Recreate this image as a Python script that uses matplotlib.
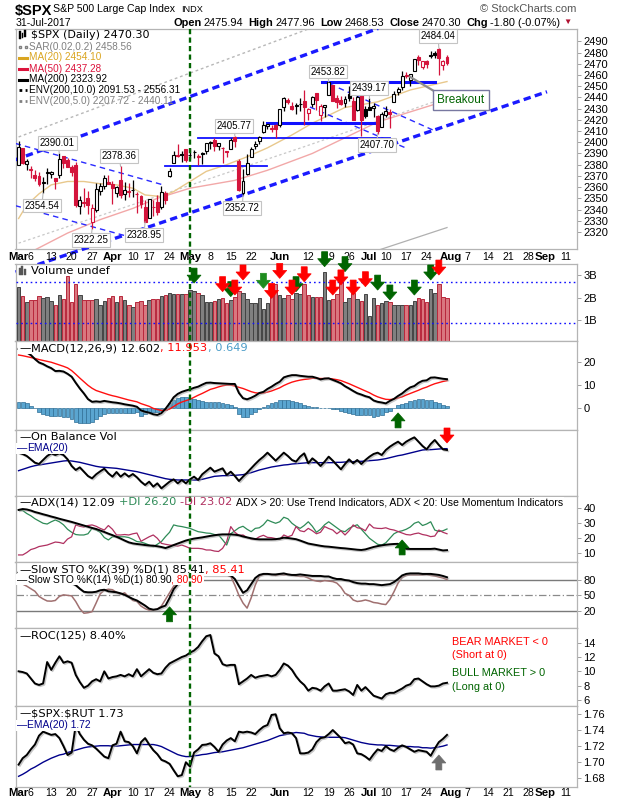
import numpy as np
import pandas as pd
import matplotlib
matplotlib.use("Agg")
import matplotlib.pyplot as plt
import matplotlib.patheffects as pe
import matplotlib.transforms as mtransforms
from matplotlib.patches import Polygon, Rectangle
from matplotlib.lines import Line2D

plt.rcParams['font.family'] = ['Liberation Sans', 'DejaVu Sans']

# ---------------- data ----------------
holidays = ['2017-04-14', '2017-05-29', '2017-07-04', '2017-09-04']
first_day, axis_last_day = '2017-03-01', '2017-09-20'

opens = [2380.13, 2394.75, 2380.92, 2375.23, 2370.74, 2369.81, 2363.49, 2372.52, 2371.56, 2368.55,
         2370.34, 2387.71, 2383.71, 2378.24, 2379.32, 2343.00, 2345.97, 2350.42, 2329.11, 2339.79,
         2356.54, 2361.31, 2364.82,
         2362.34, 2354.76, 2366.59, 2353.79, 2356.59, 2357.16, 2353.92, 2352.15, 2341.98, 2332.62,
         2342.53, 2346.79, 2342.69, 2354.74, 2370.33, 2381.51, 2388.98, 2389.70, 2393.68,
         2388.50, 2391.05, 2386.50, 2389.91, 2392.37, 2399.94, 2401.58, 2396.79, 2394.84, 2392.44,
         2393.98, 2404.55, 2382.95, 2354.69, 2371.37, 2387.21, 2397.04, 2401.41, 2409.54, 2414.50,
         2411.67, 2415.63,
         2415.65, 2431.28, 2437.83, 2431.92, 2432.03, 2434.27, 2436.39, 2425.88, 2434.15, 2443.75,
         2424.14, 2431.24, 2442.55, 2450.66, 2439.31, 2437.40, 2434.65, 2443.32, 2436.34, 2428.70,
         2442.38, 2429.20,
         2431.39, 2430.78, 2423.44, 2413.52, 2424.51, 2427.35, 2435.75, 2444.99, 2449.16, 2459.50,
         2455.88, 2463.85, 2475.56, 2467.40, 2472.04, 2477.88, 2479.97, 2482.76, 2469.12, 2475.94]
highs = [2400.98, 2394.75, 2385.03, 2378.80, 2375.12, 2373.09, 2369.08, 2376.86, 2374.42, 2368.55,
         2390.01, 2388.10, 2385.71, 2379.55, 2381.93, 2351.81, 2358.92, 2356.22, 2344.90, 2363.78,
         2363.36, 2370.42, 2370.35,
         2365.87, 2360.53, 2378.36, 2364.16, 2363.76, 2366.37, 2355.22, 2352.72, 2348.26, 2349.14,
         2348.35, 2352.63, 2361.37, 2356.18, 2376.98, 2392.48, 2398.16, 2392.10, 2393.68,
         2394.49, 2392.93, 2389.82, 2391.43, 2399.29, 2401.36, 2403.87, 2399.74, 2395.72, 2392.44,
         2404.05, 2405.77, 2384.87, 2375.74, 2389.06, 2395.46, 2400.85, 2405.58, 2418.71, 2416.68,
         2415.26, 2415.99,
         2430.06, 2440.23, 2439.55, 2436.21, 2435.28, 2439.27, 2446.20, 2430.38, 2441.49, 2443.75,
         2433.95, 2433.15, 2453.82, 2450.66, 2442.23, 2441.62, 2441.40, 2450.42, 2440.15, 2442.97,
         2442.73, 2432.71,
         2439.17, 2434.90, 2424.28, 2426.92, 2432.00, 2429.30, 2445.76, 2449.32, 2463.54, 2462.82,
         2460.92, 2473.83, 2477.62, 2472.54, 2473.10, 2481.24, 2481.69, 2484.04, 2473.53, 2477.96]
lows = [2380.13, 2380.17, 2375.12, 2367.98, 2365.51, 2361.01, 2354.54, 2363.04, 2368.52, 2358.18,
        2367.80, 2377.18, 2377.64, 2369.66, 2341.90, 2336.45, 2342.13, 2335.74, 2322.25, 2337.63,
        2352.94, 2358.58, 2362.60,
        2344.73, 2350.72, 2350.52, 2348.90, 2350.74, 2351.50, 2337.25, 2341.18, 2328.95, 2332.51,
        2334.54, 2335.05, 2340.91, 2344.51, 2369.19, 2381.15, 2386.78, 2382.68, 2382.36,
        2384.83, 2385.82, 2379.75, 2380.35, 2389.38, 2393.92, 2392.44, 2392.79, 2381.74, 2387.19,
        2393.94, 2396.05, 2356.21, 2352.72, 2370.43, 2386.92, 2393.88, 2397.99, 2408.01, 2412.20,
        2409.43, 2403.59,
        2413.54, 2427.71, 2434.32, 2429.12, 2424.75, 2427.94, 2415.70, 2419.97, 2431.28, 2428.34,
        2418.53, 2422.88, 2441.79, 2436.60, 2430.74, 2433.27, 2431.11, 2437.03, 2419.38, 2428.02,
        2405.70, 2421.65,
        2428.69, 2422.05, 2407.70, 2413.52, 2422.27, 2412.79, 2435.75, 2441.69, 2446.69, 2457.16,
        2450.34, 2463.85, 2468.43, 2465.06, 2466.32, 2474.91, 2474.94, 2459.93, 2464.66, 2468.53]
closes = [2395.96, 2381.92, 2383.12, 2375.31, 2368.39, 2362.98, 2364.87, 2372.60, 2373.47, 2365.45,
          2385.26, 2381.38, 2378.25, 2373.47, 2344.02, 2348.45, 2345.96, 2343.98, 2341.59, 2358.57,
          2361.13, 2368.06, 2362.72,
          2358.84, 2360.16, 2352.95, 2357.49, 2355.54, 2357.16, 2353.78, 2344.93, 2328.95, 2349.01,
          2342.19, 2338.17, 2355.84, 2348.69, 2374.15, 2388.61, 2387.45, 2388.77, 2384.20,
          2388.33, 2391.17, 2388.13, 2389.52, 2399.29, 2399.38, 2396.92, 2399.63, 2394.44, 2390.90,
          2402.32, 2400.67, 2357.03, 2365.72, 2381.73, 2394.02, 2398.42, 2404.39, 2415.07, 2415.82,
          2412.91, 2411.80,
          2430.06, 2439.07, 2436.10, 2429.33, 2433.14, 2433.79, 2431.77, 2429.39, 2440.35, 2437.92,
          2432.46, 2433.15, 2453.46, 2437.03, 2435.61, 2434.50, 2438.30, 2439.07, 2419.38, 2440.69,
          2419.70, 2423.41,
          2429.01, 2432.54, 2409.75, 2425.18, 2427.43, 2425.53, 2443.25, 2447.83, 2459.27, 2459.14,
          2460.61, 2473.83, 2473.45, 2472.54, 2469.91, 2477.13, 2477.83, 2475.42, 2472.10, 2470.30]
prev_close_before_start = 2363.64

volume_b = [2.47, 2.07, 1.80, 1.87, 1.87, 2.07, 1.98, 2.02, 1.83, 1.65,
            2.09, 1.92, 2.96, 1.80, 2.61, 2.09, 1.87, 1.87, 1.87, 1.92,
            1.68, 1.83, 1.98, 2.07, 1.80, 2.07, 1.87, 1.68, 1.60, 1.80,
            1.83, 1.65, 1.87, 1.92, 1.94, 2.05, 2.12, 2.21, 2.16, 2.16,
            2.16, 2.16, 2.32, 2.27, 2.19, 2.09, 1.80, 1.80, 1.83, 1.92,
            1.98, 1.76, 1.87, 2.02, 2.27, 2.21, 1.94, 1.76, 1.76, 1.98,
            1.49, 1.76, 2.12, 2.61, 2.12, 1.98, 2.12, 1.94, 2.21, 2.16,
            2.61, 2.09, 2.02, 2.02, 2.02, 3.13, 1.87, 1.92, 2.16, 2.67,
            1.80, 1.98, 2.19, 1.94, 1.83, 2.16, 1.16, 1.98, 1.65, 1.76,
            1.83, 1.80, 1.68, 1.65, 1.65, 1.68, 1.68, 1.83, 1.98, 1.92,
            1.80, 2.40, 2.21, 2.61, 2.02, 2.00]
volume_levels = [2.68, 0.85]

ma20_idx = [0, 2, 5, 8, 12, 16, 20, 24, 28, 31, 35, 38, 42, 46, 51, 56, 61, 67, 72, 80, 88, 96, 105]
ma20_val = [2332, 2344, 2354, 2362, 2365, 2365, 2363, 2362, 2359, 2353, 2351.5, 2356, 2365, 2374,
            2380, 2387, 2395, 2406.5, 2417, 2431, 2436, 2446.6, 2454.1]
ma50_idx = [0, 4, 12, 20, 28, 34, 42, 53, 61, 72, 88, 105]
ma50_val = [2296, 2304, 2319, 2331, 2341, 2350, 2359, 2366, 2375, 2390, 2418, 2437.28]
ma200_idx = [0, 35, 70, 105]
ma200_val = [2200, 2241, 2282, 2323.92]
env5_up_idx = [0, 35, 70, 105]
env5_up_val = [2310, 2353, 2396, 2440.11]

macd = [26.0, 25.5, 24.5, 23.3, 21.5, 20.0, 19.3, 18.3, 17.5, 16.2,
        16.3, 16.0, 15.0, 13.7, 11.0, 8.5, 6.3, 3.8, 2.6, 2.8,
        2.6, 3.0, 2.7, 2.4, 2.2, 1.9, 1.5, 1.2, 0.9, 0.4,
        -1.2, -1.8, -2.2, -2.9, -3.2, -2.4, -0.5, 1.9, 4.6, 6.1,
        7.0, 7.6, 8.1, 8.8, 9.3, 10.2, 11.0, 11.1, 10.9, 10.8,
        10.7, 10.6, 10.5, 10.5, 6.5, 4.2, 3.7, 4.4, 5.3, 6.5,
        7.0, 8.3, 9.3, 10.5, 11.5, 13.4, 14.0, 14.4, 14.4, 14.1,
        13.9, 13.7, 13.7, 13.2, 12.5, 12.9, 13.0, 12.3, 11.6, 10.8,
        9.5, 8.5, 7.4, 6.4, 5.8, 5.1, 4.6, 3.2, 2.6, 2.3,
        1.9, 3.0, 3.9, 5.2, 6.3, 7.8, 9.0, 9.6, 11.0, 11.9,
        12.1, 13.3, 13.4, 13.1, 12.8, 12.602]
macd_signal = [23.3, 23.0, 22.6, 22.2, 21.8, 21.3, 20.9, 20.5, 20.1, 19.5,
               18.9, 18.3, 17.6, 16.4, 14.8, 13.1, 11.5, 9.9, 8.6, 7.6,
               7.0, 6.4, 5.8, 5.3, 4.9, 4.4, 3.9, 3.4, 3.0, 2.6,
               1.8, 1.2, 0.6, -0.3, -0.8, -1.2, -1.2, -0.6, 0.5, 1.7,
               2.5, 3.1, 3.7, 4.6, 5.5, 6.3, 7.2, 8.1, 8.6, 9.2,
               9.7, 10.0, 10.0, 9.6, 9.0, 8.5, 7.8, 7.1, 6.6, 6.4,
               6.5, 6.9, 7.4, 8.1, 8.8, 9.8, 10.6, 11.3, 11.8, 12.2,
               12.5, 12.7, 13.0, 13.0, 12.9, 12.9, 12.9, 12.7, 12.4, 12.0,
               11.3, 10.6, 9.8, 9.0, 8.2, 7.4, 6.6, 5.6, 4.8, 4.2,
               3.7, 3.6, 3.8, 4.3, 4.8, 5.6, 6.3, 7.0, 7.7, 8.5,
               9.1, 9.9, 10.6, 11.1, 11.6, 11.953]
macd_hist = [2.6, 2.6, 2.0, 0.8, -0.3, -1.8, -2.8, -3.3, -3.5, -3.6,
             -3.7, -3.9, -4.3, -5.2, -6.2, -6.6, -6.6, -6.6, -6.2, -4.9,
             -3.5, -2.9, -2.5, -2.5, -2.4, -2.4, -2.3, -2.2, -2.2, -1.8,
             -3.5, -2.8, -2.0, -1.8, -1.8, -1.6, -1.0, 1.9, 3.2, 4.4,
             4.6, 4.6, 4.4, 3.9, 3.4, 3.0, 2.7, 2.6, 2.5, 2.3,
             2.1, 1.6, 1.0, 0.5, -2.8, -4.3, -3.9, -3.0, -2.0, -0.8,
             0.3, 1.4, 2.0, 2.6, 3.2, 3.4, 3.3, 2.9, 2.6, 2.0,
             1.3, 0.9, 0.4, 0.2, -0.3, 0.0, 0.0, -0.4, -0.8, -1.3,
             -1.8, -2.2, -2.8, -3.2, -3.2, -3.2, -3.4, -4.0, -3.6, -3.2,
             -2.0, -1.5, 0.0, 1.0, 1.6, 2.2, 2.8, 3.4, 3.7, 3.7,
             3.6, 3.2, 2.7, 2.0, 1.2, 0.649]

# On-balance volume, in relative units (larger = lower on the panel)
obv = [338, 342, 348, 358, 368, 372, 360, 348, 340, 345,
       340, 345, 358, 378, 390, 382, 395, 408, 415, 403,
       394, 386, 400, 410, 396, 410, 400, 410, 402, 412,
       425, 435, 425, 440, 430, 445, 435, 425, 418, 430,
       420, 430, 418, 410, 420, 403, 393, 383, 395, 390,
       385, 405, 395, 408, 423, 410, 398, 385, 372, 360,
       350, 338, 350, 362, 350, 338, 348, 360, 365, 350,
       340, 370, 355, 365, 378, 365, 350, 362, 375, 388,
       372, 358, 370, 360, 372, 360, 350, 342, 338, 345,
       330, 320, 312, 305, 315, 305, 298, 292, 305, 318,
       328, 312, 300, 315, 328, 330]
obv_ema = [392, 388, 384, 380, 377, 375, 373, 371, 369, 367,
           365, 363, 362, 363, 365, 367, 370, 373, 376, 379,
           381, 382, 383, 384, 385, 387, 389, 391, 393, 395,
           398, 401, 404, 407, 410, 413, 416, 418, 419, 420,
           420, 420, 420, 420, 420, 418, 415, 412, 409, 408,
           407, 407, 406, 406, 405, 404, 401, 398, 394, 390,
           387, 384, 381, 379, 377, 375, 374, 372, 371, 370,
           369, 368, 368, 368, 368, 368, 368, 368, 367, 367,
           366, 365, 365, 364, 364, 363, 362, 361, 360, 358,
           356, 353, 350, 347, 345, 342, 339, 336, 333, 330,
           329, 329, 328, 327, 326, 326]

adx = [38.9, 39.5, 39.2, 38.5, 37.5, 36.8, 36.0, 35.3, 34.5, 33.8,
       33.0, 32.3, 31.6, 30.9, 30.1, 29.3, 28.5, 27.7, 26.9, 26.2,
       25.2, 24.2, 23.1, 22.1, 21.0, 19.8, 18.5, 17.3, 16.6, 16.2,
       15.9, 15.5, 15.2, 15.1, 14.7, 14.2, 13.5, 14.4, 15.5, 16.5,
       17.5, 18.5, 19.2, 19.8, 20.2, 20.6, 21.1, 21.6, 22.0, 22.4,
       22.6, 22.6, 22.6, 22.4, 22.0, 21.2, 20.6, 20.0, 19.5, 19.3,
       19.3, 19.3, 19.3, 19.4, 19.8, 20.4, 20.2, 19.8, 19.4, 18.5,
       17.5, 16.5, 16.0, 15.5, 15.0, 14.6, 14.4, 14.1, 13.8, 13.5,
       13.3, 13.0, 12.7, 12.4, 12.2, 12.6, 13.4, 14.2, 14.8, 15.3,
       15.7, 16.0, 16.2, 16.3, 14.5, 13.0, 12.9, 12.9, 12.9, 12.9,
       12.9, 12.9, 13.1, 12.5, 11.9, 12.09]
plus_di = [38.9, 38.5, 36.5, 35.0, 33.0, 31.5, 30.0, 29.5, 31.0, 32.2,
           31.0, 29.0, 26.0, 24.0, 22.5, 22.2, 22.2, 23.0, 26.6, 25.5,
           24.0, 20.5, 18.9, 21.0, 21.1, 21.0, 21.0, 20.5, 19.3, 17.8,
           17.5, 16.6, 15.5, 14.4, 16.0, 17.8, 21.1, 24.0, 28.9, 28.2,
           27.8, 27.2, 26.6, 25.5, 24.4, 24.0, 23.5, 23.3, 22.5, 22.2,
           19.0, 15.5, 23.0, 25.0, 27.0, 28.0, 26.0, 24.4, 26.6, 27.0,
           29.0, 32.2, 31.0, 30.0, 31.0, 34.0, 33.0, 30.0, 28.0, 26.6,
           28.5, 31.0, 28.0, 24.0, 26.0, 29.0, 31.0, 29.0, 27.0, 25.0,
           24.4, 26.6, 28.0, 29.0, 26.0, 23.0, 20.0, 18.0, 16.0, 15.5,
           17.0, 20.0, 23.0, 24.4, 25.0, 26.0, 27.5, 30.0, 31.0, 28.5,
           29.5, 31.0, 25.5, 24.5, 25.0, 26.2]
minus_di = [8.9, 8.9, 10.5, 12.5, 13.3, 14.5, 15.0, 15.5, 16.5, 17.5,
            17.2, 16.5, 19.5, 21.0, 28.9, 28.0, 27.5, 28.5, 28.9, 28.0,
            26.6, 25.5, 28.5, 26.0, 22.2, 22.2, 22.5, 22.2, 23.0, 23.5,
            18.0, 19.5, 21.0, 22.2, 20.0, 16.6, 16.0, 15.5, 15.2, 14.8,
            15.5, 14.5, 13.3, 13.3, 13.3, 13.0, 12.2, 12.2, 11.5, 11.2,
            13.3, 17.8, 27.8, 24.0, 22.0, 22.2, 20.5, 19.5, 19.3, 21.0,
            22.0, 20.6, 20.4, 19.8, 19.3, 22.2, 21.0, 22.0, 27.8, 25.0,
            24.4, 26.6, 25.0, 23.0, 24.0, 27.8, 26.5, 25.5, 23.0, 25.0,
            22.2, 25.0, 28.9, 27.0, 26.6, 25.0, 29.5, 27.0, 26.6, 26.5,
            27.0, 26.0, 25.5, 24.5, 23.5, 22.5, 22.2, 23.0, 23.5, 22.5,
            22.0, 21.1, 21.5, 25.5, 24.0, 23.02]

sto39 = [95, 90, 88, 85, 83, 80, 78, 76, 77, 78,
         80, 79, 76, 74, 70, 63, 57, 56, 56, 57,
         60, 61, 58, 57, 56, 54, 51, 47, 43, 40,
         35, 30, 24, 22, 23, 27, 30, 45, 62, 72,
         78, 80, 82, 84, 88, 90, 90, 90, 90, 90,
         90, 90, 89, 82, 68, 55, 60, 72, 84, 90,
         92, 92, 91, 91, 92, 93, 91, 90, 90, 91,
         90, 89, 88, 88, 88, 87, 87, 84, 82, 82,
         80, 79, 76, 74, 73, 73, 72, 72, 71, 70,
         71, 72, 76, 82, 89, 92, 93, 93, 93, 92,
         92, 92, 91, 90, 88, 85.41]
sto14 = [75, 72, 68, 63, 58, 48, 43, 39, 38.6, 40,
         48, 51, 50, 49, 38, 24, 15, 16, 18, 35,
         53, 60, 62, 61, 56, 52, 55, 47, 40, 38,
         29, 24, 21, 21, 23, 29, 42, 55, 68, 78,
         84, 86, 87, 89, 92, 94, 93, 93, 92, 91,
         92, 90, 87, 70, 50, 35, 25, 45, 70, 88,
         91, 92, 91, 89, 91, 90, 91, 90, 88, 87,
         87, 84, 80, 78, 77, 79, 78, 77, 74, 66,
         54, 50, 41, 38, 39, 41, 39, 36, 35, 33,
         32, 42, 57, 74, 85, 89, 90, 90, 90, 90,
         91, 89, 88, 86, 84, 80.90]

roc125 = [10.0, 9.9, 9.7, 9.0, 8.3, 8.1, 8.3, 11.3, 10.2, 11.2,
          12.1, 11.2, 11.4, 11.2, 9.5, 8.5, 7.7, 8.0, 8.6, 8.9,
          8.6, 10.0, 9.0, 9.2, 9.3, 9.5, 9.3, 9.6, 9.3, 10.3,
          9.3, 9.8, 10.3, 9.8, 9.6, 9.7, 10.5, 11.1, 11.4, 11.7,
          12.0, 12.2, 12.6, 12.9, 13.4, 14.2, 14.9, 15.07, 12.5, 12.1,
          11.0, 10.8, 10.9, 10.9, 8.2, 8.6, 9.0, 9.5, 9.1, 9.3,
          9.4, 9.5, 9.3, 9.5, 10.2, 11.1, 10.8, 10.2, 9.3, 8.6,
          8.1, 7.3, 7.7, 7.6, 7.3, 7.9, 8.3, 7.3, 7.3, 7.4,
          7.5, 7.2, 6.7, 8.1, 7.3, 7.8, 7.2, 6.6, 6.4, 6.2,
          6.8, 7.0, 7.0, 7.3, 7.6, 8.0, 8.2, 8.9, 9.0, 8.6,
          8.2, 7.9, 7.9, 8.0, 8.3, 8.40]

spx_rut = [1.697, 1.705, 1.709, 1.716, 1.722, 1.733, 1.738, 1.736, 1.734, 1.735,
           1.730, 1.720, 1.709, 1.712, 1.746, 1.735, 1.728, 1.723, 1.721, 1.717,
           1.712, 1.707, 1.705, 1.721, 1.723, 1.738, 1.726, 1.725, 1.720, 1.711,
           1.725, 1.730, 1.722, 1.715, 1.710, 1.703, 1.701, 1.698, 1.690, 1.6825,
           1.684, 1.700, 1.6946, 1.712, 1.716, 1.7215, 1.722, 1.7236, 1.719, 1.713,
           1.722, 1.727, 1.730, 1.726, 1.738, 1.737, 1.738, 1.737, 1.735, 1.740,
           1.7442, 1.7463, 1.7588, 1.7596, 1.7422, 1.736, 1.737, 1.736, 1.730, 1.711,
           1.711, 1.712, 1.716, 1.725, 1.730, 1.731, 1.735, 1.740, 1.735, 1.730,
           1.7236, 1.725, 1.722, 1.711, 1.710, 1.707, 1.703, 1.710, 1.716, 1.714,
           1.720, 1.716, 1.714, 1.718, 1.721, 1.719, 1.716, 1.713, 1.715, 1.714,
           1.713, 1.708, 1.717, 1.725, 1.729, 1.734]
spx_rut_ema = [1.6825, 1.685, 1.688, 1.6915, 1.694, 1.697, 1.700, 1.7025, 1.705, 1.707,
               1.709, 1.710, 1.712, 1.7135, 1.715, 1.7165, 1.718, 1.719, 1.7195, 1.720,
               1.7205, 1.7205, 1.7205, 1.720, 1.720, 1.7205, 1.721, 1.7215, 1.722, 1.722,
               1.722, 1.722, 1.722, 1.722, 1.721, 1.7195, 1.717, 1.7145, 1.712, 1.7095,
               1.708, 1.707, 1.707, 1.708, 1.7085, 1.7095, 1.710, 1.711, 1.712, 1.7125,
               1.713, 1.714, 1.715, 1.716, 1.717, 1.718, 1.7195, 1.721, 1.7225, 1.724,
               1.7255, 1.727, 1.729, 1.731, 1.733, 1.734, 1.735, 1.736, 1.737, 1.7365,
               1.736, 1.734, 1.733, 1.732, 1.7315, 1.731, 1.731, 1.731, 1.731, 1.731,
               1.7305, 1.729, 1.7275, 1.726, 1.7245, 1.7235, 1.7225, 1.722, 1.7215, 1.7215,
               1.721, 1.721, 1.7205, 1.720, 1.720, 1.7195, 1.7195, 1.719, 1.719, 1.718,
               1.718, 1.7175, 1.718, 1.719, 1.720, 1.7215]

tick_dates = ['2017-03-01', '2017-03-06', '2017-03-13', '2017-03-20', '2017-03-27', '2017-04-03',
              '2017-04-10', '2017-04-17', '2017-04-24', '2017-05-01', '2017-05-08', '2017-05-15',
              '2017-05-22', '2017-06-01', '2017-06-12', '2017-06-19', '2017-06-26', '2017-07-03',
              '2017-07-10', '2017-07-17', '2017-07-24', '2017-08-01', '2017-08-07', '2017-08-14',
              '2017-08-21', '2017-08-28', '2017-09-01', '2017-09-11']
tick_labels = ['Mar', '6', '13', '20', '27', 'Apr', '10', '17', '24', 'May', '8', '15', '22', 'Jun',
               '12', '19', '26', 'Jul', '10', '17', '24', 'Aug', '7', '14', '21', '28', 'Sep', '11']
marker_date = '2017-05-01'

# price annotations: text, date index of bar, price of bar extreme
price_notes = [('2390.01', 10, 2390.01), ('2354.54', 6, 2354.54), ('2378.36', 25, 2378.36),
               ('2322.25', 18, 2322.25), ('2328.95', 31, 2328.95), ('2405.77', 53, 2405.77),
               ('2352.72', 55, 2352.72), ('2453.82', 76, 2453.82), ('2439.17', 86, 2439.17),
               ('2407.70', 88, 2407.70), ('2484.04', 103, 2484.04)]

for arr in [opens, highs, lows, closes, volume_b, macd, macd_signal, macd_hist, obv, obv_ema, adx,
            plus_di, minus_di, sto39, sto14, roc125, spx_rut, spx_rut_ema]:
    assert len(arr) == 106, len(arr)

# ---------------- calendar ----------------
days = [d for d in pd.bdate_range(first_day, axis_last_day) if d.strftime('%Y-%m-%d') not in holidays]
day_index = {d.strftime('%Y-%m-%d'): i for i, d in enumerate(days)}
n = len(closes)
x = np.arange(n)

# ---------------- figure layout ----------------
W, H = 620.0, 800.0
fig = plt.figure(figsize=(6.2, 8.0), dpi=100)
fig.patch.set_facecolor('white')
renderer = fig.canvas.get_renderer()
LEFT, RIGHT = 15.5, 577.0
XLIM = (-0.76, 136.86)
RED = '#d4143c'
GRAYC = '#b4b4b4'
LEG = 8.2


def make_ax(top, bot, ylim, yticks=None, yticklabels=None):
    ax = fig.add_axes([LEFT / W, 1 - bot / H, (RIGHT - LEFT) / W, (bot - top) / H])
    ax.set_xlim(*XLIM)
    ax.set_ylim(*ylim)
    for s in ax.spines.values():
        s.set_color(GRAYC)
        s.set_linewidth(0.9)
    ax.set_xticks([])
    ax.yaxis.tick_right()
    ax.tick_params(axis='y', which='both', direction='out', length=3, width=0.6, color='#909090',
                   labelsize=8, pad=1.5, labelcolor='black')
    if yticks is not None:
        ax.set_yticks(yticks)
        if yticklabels is not None:
            ax.set_yticklabels(yticklabels)
    else:
        ax.set_yticks([])
    return ax


def runs(xp, yp, items, size, family='DejaVu Sans', weight='normal', bg=True):
    """items: (text, color, gap_before_px); a white band is put behind the whole line."""
    x0 = xp
    for s, color, gap in items:
        xp += gap
        t = fig.text(xp / W, 1 - yp / H, s, color=color, fontsize=size, family=family,
                     fontweight=weight, ha='left', va='center', zorder=30)
        xp += t.get_window_extent(renderer=renderer).width
    if bg:
        fig.add_artist(Rectangle(((x0 - 1) / W, 1 - (yp + 5.5) / H), (xp - x0 + 2) / W, 11 / H,
                                 facecolor='white', edgecolor='none', zorder=28))
    return xp


def arrow(ax, xi, yv, up, color):
    tx, ty = ax.transData.transform((xi, yv))
    d = -1 if up else 1          # direction of the body relative to the tip (display y is upward)
    pts = [(0, 0), (7, 8), (3, 8), (3, 15), (-3, 15), (-3, 8), (-7, 8)]
    pts = [(tx + px, ty + d * py) for px, py in pts]
    poly = Polygon(pts, closed=True, facecolor=color, edgecolor=color, lw=0.5,
                   transform=mtransforms.IdentityTransform(), zorder=40)
    fig.add_artist(poly)


shadow = [pe.SimpleLineShadow(offset=(0.9, -0.9), shadow_color='#9a9a9a', alpha=0.55), pe.Normal()]

# ---------------- price panel ----------------
axp = make_ax(28.5, 249, (2304.8, 2501.4), list(range(2320, 2500, 10)))

axp.plot(ma200_idx, ma200_val, color='#b0b0b0', lw=0.9, zorder=2)
axp.plot(env5_up_idx, env5_up_val, color='#c8c8c8', lw=0.9, ls=(0, (2, 2)), zorder=2)
axp.plot(ma50_idx, ma50_val, color='#f2a8a8', lw=1.0, zorder=2)
axp.plot(ma20_idx, ma20_val, color='#e8c88c', lw=1.0, zorder=2)

axp.plot([0, 72], [2404.7, 2502.3], color='#b8b8b8', lw=1.0, ls=(0, (2, 2)), zorder=3)
axp.plot([-0.9, 88.1], [2384.2, 2501.4], color='#1a1aff', lw=2.4, ls=(0, (2.2, 1.3)), zorder=3)
axp.plot([-0.76, 129.5], [2284.2, 2445.0], color='#1a1aff', lw=2.4, ls=(0, (2.2, 1.3)), zorder=3,
         clip_on=False)
axp.plot([-0.76, 35.5], [2398.9, 2361.9], color='#2a2aff', lw=1.0, ls=(0, (4, 3)), zorder=3)
axp.plot([-0.76, 31.5], [2343.4, 2311.3], color='#2a2aff', lw=1.0, ls=(0, (4, 3)), zorder=3)
axp.plot([76.3, 102.1], [2451.9, 2410.0], color='#2a2aff', lw=1.0, ls=(0, (4, 3)), zorder=3)
axp.plot([71.4, 94.9], [2431.4, 2394.9], color='#2a2aff', lw=1.0, ls=(0, (4, 3)), zorder=3)
axp.plot([35.9, 60.8], [2379, 2379], color='#1010ff', lw=1.3, zorder=3)
axp.plot([44, 91], [2403.5, 2403.5], color='#1010ff', lw=1.3, zorder=3)
axp.plot([60.9, 89], [2417.4, 2417.4], color='#1010ff', lw=2.2, zorder=3)
axp.plot([74.3, 102], [2454, 2454], color='#1010ff', lw=2.2, zorder=3)

prev = [prev_close_before_start] + closes[:-1]
for i in range(n):
    o, h, l, c = opens[i], highs[i], lows[i], closes[i]
    col = RED if c < prev[i] else 'black'
    axp.vlines(i, l, h, color=col, lw=0.9, zorder=5)
    lo, hi = min(o, c), max(o, c)
    face = 'white' if c >= o else col
    axp.add_patch(Rectangle((i - 0.36, lo), 0.72, max(hi - lo, 0.5), facecolor=face,
                            edgecolor=col, lw=0.8, zorder=6))

label_offsets = {'2390.01': (-0.5, 9.3), '2354.54': (-0.3, -11.0), '2378.36': (-0.4, 9.3),
                 '2322.25': (-0.3, -9.4), '2328.95': (-0.3, -11.7), '2405.77': (-0.2, 8.7),
                 '2352.72': (-0.2, -11.3), '2453.82': (-0.2, 9.1), '2439.17': (-0.1, 9.1),
                 '2407.70': (-0.2, -10.2), '2484.04': (-0.2, 10.7)}
for txt, bi, bp in price_notes:
    dx, dy = label_offsets[txt]
    axp.plot([bi, bi + dx], [bp, bp + dy], color='#b8b8b8', lw=0.8, zorder=7)
    axp.text(bi + dx, bp + dy, txt, fontsize=7, ha='center', va='center', color='black', zorder=8,
             bbox=dict(boxstyle='square,pad=0.18', fc='white', ec='#c4c4c4', lw=0.8))

axp.plot([102.1, 95.9], [2445.0, 2458.4], color='#8c8c8c', lw=1.6, zorder=7)
axp.text(108.4, 2437.8, 'Breakout', fontsize=8.5, color='#006400', ha='center', va='center', zorder=8,
         bbox=dict(boxstyle='square,pad=0.35', fc='white', ec='#7878a0', lw=1.0))

ys = [35, 46.5, 57.5, 68.5, 79.5, 90.3, 101]
runs(31, ys[0], [('\\$SPX (Daily) 2470.30', 'black', 0)], 8.0, bg=False)
leg = [('SAR(0.02,0.2) 2458.56', '#808080', 'sq'), ('MA(20) 2454.10', '#daa520', '-'),
       ('MA(50) 2437.28', '#dc143c', '-'), ('MA(200) 2323.92', 'black', '-'),
       ('ENV(200,10.0) 2091.53 - 2556.31', 'black', ':'), ('ENV(200,5.0) 2207.72 - 2440.11', '#808080', ':')]
for (txt, col, st), yy in zip(leg, ys[1:]):
    runs(29.5, yy, [(txt, col, 0)], 7.2, family='Liberation Sans', bg=False)
    if st == '-':
        fig.add_artist(Line2D([19 / W, 27 / W], [1 - yy / H] * 2, color=col, lw=2.2))
    elif st == ':':
        fig.add_artist(Line2D([19 / W, 27 / W], [1 - yy / H] * 2, color=col, lw=2.0, ls=(0, (1, 1.2))))
    else:
        fig.add_artist(Line2D([20 / W, 26 / W], [1 - yy / H] * 2, color=col, lw=0, marker='s', ms=2,
                              markerfacecolor='white', markeredgecolor=col))
for k, (hh, lo) in enumerate([(31, 39), (33, 38), (30, 37)]):
    fig.add_artist(Rectangle(((19 + 2.6 * k) / W, 1 - lo / H), 1.6 / W, (lo - hh) / H,
                             facecolor='black', edgecolor='black', lw=0.3))

# ---------------- volume ----------------
axv = make_ax(264, 341, (0.067, 3.49), [1, 2, 3], ['1B', '2B', '3B'])
vcol = ['#d9777f' if closes[i] < prev[i] else '#808080' for i in range(n)]
vedge = ['#b8283c' if closes[i] < prev[i] else '#444444' for i in range(n)]
axv.bar(x, volume_b, width=0.86, color=vcol, edgecolor=vedge, lw=0.7, zorder=3)
for lv in volume_levels:
    axv.axhline(lv, color='#1010ff', lw=1.0, ls=(0, (1.2, 2.2)), zorder=4)
runs(31, 271.5, [('Volume undef', 'black', 0)], LEG, bg=False)
for k, hh in enumerate([268, 266, 269]):
    fig.add_artist(Rectangle(((19 + 2.4 * k) / W, 1 - 275 / H), 1.7 / W, (275 - hh) / H,
                             facecolor='#555555', edgecolor='#555555', lw=0.3))

vol_green_idx = [43, 52, 60, 68, 75, 80, 88, 91, 97, 101]
vol_green_tip = [2.64, 2.04, 2.41, 2.26, 3.37, 3.15, 2.33, 1.89, 2.11, 2.78]
vol_red_idx = [50, 53, 55, 62, 64, 67, 70, 77, 79, 82, 85, 103]
vol_red_tip = [2.26, 2.11, 2.78, 1.96, 2.85, 2.11, 2.70, 2.11, 2.56, 2.11, 2.48, 3.0]

# ---------------- MACD ----------------
axm = make_ax(341, 430, (-9.87, 29.5), [0, 10, 20])
axm.bar(x, macd_hist, width=0.9, color='#5aa5d0', edgecolor='#2f6f96', lw=0.5, zorder=2)
axm.plot(x, macd_signal, color='#ff1010', lw=1.0, zorder=3)
axm.plot(x, macd, color='black', lw=1.4, zorder=4, path_effects=shadow)
runs(19, 348.3, [('\u2014', 'black', 0), ('MACD(12,26,9) 12.602', 'black', 1.0),
                 (', 11.953', '#ff0000', 0), (', 0.649', '#4a9cc8', 0)], LEG)

# ---------------- OBV ----------------
axo = make_ax(430, 495.5, (466.5, 270))
axo.plot(x, obv_ema, color='#00008b', lw=1.0, zorder=3)
axo.plot(x, obv, color='black', lw=1.4, zorder=4, path_effects=shadow)
runs(19, 437.3, [('\u2014', 'black', 0), ('On Balance Vol', 'black', 1.0)], LEG)
runs(17, 448.3, [('\u2014', '#00008b', 0), ('EMA(20)', '#00008b', 0)], 7.4, family='Liberation Sans')

# ---------------- ADX ----------------
axa = make_ax(495.5, 562, (4.2, 48.5), [10, 20, 30, 40])
axa.plot(x, plus_di, color='#2e8b57', lw=0.9, zorder=3)
axa.plot(x, minus_di, color='#b03060', lw=0.9, zorder=3)
axa.plot(x, adx, color='black', lw=1.4, zorder=4, path_effects=shadow)
runs(19, 502.3, [('\u2014', 'black', 0), ('ADX(14) 12.09', 'black', 1.0), ('+DI 26.20', '#2e8b57', 4),
                 ('-DI 23.02', '#b03060', 4)], LEG)
runs(236, 502.3, [('ADX > 20: Use Trend Indicators, ADX < 20: Use Momentum Indicators', 'black', 0)],
     7.6, family='Liberation Sans')

# ---------------- Slow STO ----------------
axs = make_ax(562, 628, (-13.9, 115.3), [20, 50, 80])
axs.axhline(80, color='#7a7a7a', lw=1.0, zorder=1)
axs.axhline(20, color='#7a7a7a', lw=1.0, zorder=1)
axs.axhline(50, color='#8a8a8a', lw=0.9, ls=(0, (6, 2, 1, 2)), zorder=1)
axs.plot(x, sto14, color='#a07070', lw=1.1, zorder=3)
axs.plot(x, sto39, color='black', lw=1.4, zorder=4, path_effects=shadow)
runs(19, 570, [('\u2014', 'black', 0), ('Slow STO %K(39) %D(1) 85.41', 'black', 1.0),
               (', 85.41', '#ff0000', 0)], LEG)
runs(17, 579.8, [('\u2014', 'black', 0), ('Slow STO %K(14) %D(1) 80.90', 'black', 0.5),
                 (', 80.90', '#ff0000', 0)], 7.4, family='Liberation Sans')

# ---------------- ROC ----------------
axr = make_ax(628, 706, (5.16, 16.05), [6, 8, 10, 12, 14])
axr.plot(x, roc125, color='black', lw=1.4, zorder=4, path_effects=shadow)
runs(19, 635.7, [('\u2014', 'black', 0), ('ROC(125) 8.40%', 'black', 1.0)], LEG)
for txt, col, yy in [('BEAR MARKET < 0', '#ff0000', 641.7), ('(Short at 0)', '#ff0000', 655.5),
                     ('BULL MARKET > 0', '#006400', 672.5), ('(Long at 0)', '#006400', 686.5)]:
    fig.text(452 / W, 1 - yy / H, txt, color=col, fontsize=7.8, ha='left', va='center')

# ---------------- SPX:RUT ----------------
axq = make_ax(706, 787, (1.6692, 1.7699), [1.68, 1.70, 1.72, 1.74, 1.76],
              ['1.68', '1.70', '1.72', '1.74', '1.76'])
axq.plot(x, spx_rut_ema, color='#00008b', lw=1.0, zorder=3)
axq.plot(x, spx_rut, color='black', lw=1.4, zorder=4, path_effects=shadow)
runs(19, 713.3, [('\u2014', 'black', 0), ('\\$SPX:\\$RUT 1.73', 'black', 1.0)], LEG)
runs(17, 725, [('\u2014', '#00008b', 0), ('EMA(20) 1.72', '#00008b', 0)], 7.4, family='Liberation Sans')

# ---------------- arrows ----------------
fig.canvas.draw()
for xi, tv in zip(vol_green_idx, vol_green_tip):
    arrow(axv, xi, tv, False, '#1e8c1e' if xi == 60 else '#006400')
for xi, tv in zip(vol_red_idx, vol_red_tip):
    arrow(axv, xi, tv, False, '#ff0000')
arrow(axm, 93, -2.3, True, '#006400')
arrow(axo, 105, 309, False, '#ff0000')
arrow(axa, 94, 18.9, True, '#006400')
arrow(axs, 37, 27.6, True, '#006400')
arrow(axq, 103, 1.709, True, '#6e6e6e')

# ---------------- May 1 marker line ----------------
mi = day_index[marker_date]
trans = mtransforms.blended_transform_factory(axp.transData, fig.transFigure)
fig.add_artist(Line2D([mi, mi], [1 - 28.5 / H, 1 - 787 / H], transform=trans, color='#006400',
                      lw=1.7, ls=(0, (2.2, 1.4)), zorder=29))

# ---------------- date labels ----------------
for yrow in (256.5, 793.5):
    for d, lab in zip(tick_dates, tick_labels):
        xi = day_index[d]
        bold = not lab.isdigit()
        fig.text(xi, 1 - yrow / H, lab, transform=trans, ha='center', va='center',
                 fontsize=8.2 if bold else 7.6, fontweight='bold' if bold else 'normal', color='black')

# ---------------- header ----------------
fig.text(15 / W, 1 - 11.5 / H, '\\$SPX', fontsize=10.5, fontweight='bold', ha='left', va='center')
fig.text(53 / W, 1 - 9.5 / H, 'S&P 500 Large Cap Index', fontsize=7.6, ha='left', va='center')
fig.text(181.5 / W, 1 - 9.5 / H, 'INDX', fontsize=6.6, ha='left', va='center')
fig.text(576 / W, 1 - 8.5 / H, '\u00a9 StockCharts.com', fontsize=8, color='#555555', ha='right', va='center')
fig.text(16 / W, 1 - 22.5 / H, '31-Jul-2017', fontsize=7.6, ha='left', va='center')
xp = 173.0
for lab, val in [('Open', '2475.94'), ('High', '2477.96'), ('Low', '2468.53'), ('Close', '2470.30'),
                 ('Chg', '-1.80 (-0.07%)')]:
    xp = runs(xp, 22.5, [(lab, 'black', 0)], 7.9, family='Liberation Sans', weight='bold', bg=False)
    xp = runs(xp, 22.5, [(val, 'black', 2.5)], 7.9, family='Liberation Sans', bg=False) + 5
fig.text((xp - 2) / W, 1 - 22.5 / H, '\u25bc', fontsize=6, color='#b01030', ha='left', va='center')

fig.savefig('out.png', dpi=100, facecolor='white')
